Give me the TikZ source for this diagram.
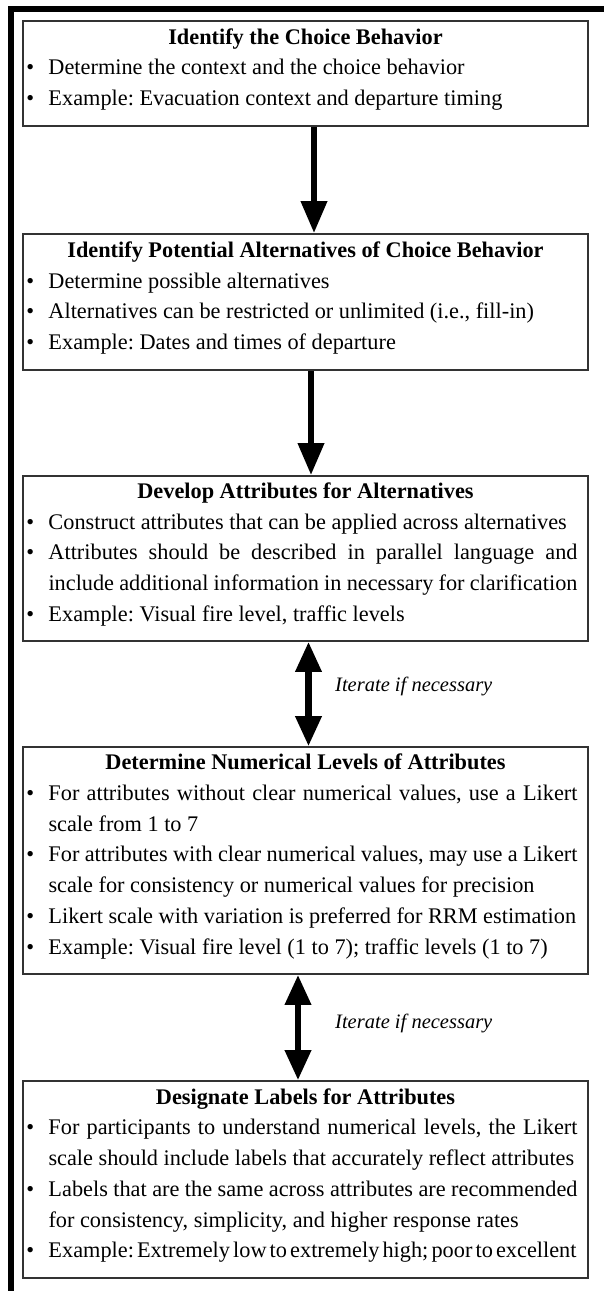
\documentclass[tikz,border=0pt]{standalone}
\usepackage{fontspec}
\setmainfont{Liberation Serif}
\usetikzlibrary{arrows.meta}
\frenchspacing
\newcommand{\itm}[1]{\par\noindent\hangindent=22pt\hangafter=1\makebox[22pt][l]{\textbullet}#1\par}
\newcommand{\ttl}[1]{{\centering\hspace*{7pt}\textbf{#1}\par}}
\newcommand{\boxtext}[1]{\begin{minipage}{551pt}\fontsize{22.3}{30.7}\selectfont\frenchspacing\hyphenpenalty=10000 #1\par\vspace*{8pt}\end{minipage}\hspace*{7pt}}
\tikzset{
  stepbox/.style={draw=black!80, line width=1.6pt, minimum width=565pt, inner xsep=3.5pt, inner ysep=0pt},
  flow/.style={line width=6.5pt, -{Triangle[length=32pt,width=25pt]}},
  twoway/.style={line width=6.5pt, {Triangle[length=30pt,width=25pt]}-{Triangle[length=30pt,width=25pt]}},
  lbl/.style={font=\fontsize{20.5}{24}\selectfont\itshape, inner sep=0pt, anchor=west},
  frame/.style={line width=6pt, line join=miter}
}
\begin{document}
\begin{tikzpicture}[x=1pt,y=-1pt]
\useasboundingbox (0,0) rectangle (603,1291);
\draw[frame] (11,1300) -- (11,9) -- (610,9);

\node[stepbox, minimum height=105pt] (b1) at (305.5,73.5) {\boxtext{%
\ttl{Identify the Choice Behavior}%
\itm{Determine the context and the choice behavior}%
\itm{Example: Evacuation context and departure timing}}};

\node[stepbox, minimum height=136pt] (b2) at (305.5,302) {\boxtext{%
\ttl{Identify Potential Alternatives of Choice Behavior}%
\itm{Determine possible alternatives}%
\itm{Alternatives can be restricted or unlimited (i.e., fill-in)}%
\itm{Example: Dates and times of departure}}};

\node[stepbox, minimum height=165pt] (b3) at (305.5,558.5) {\boxtext{%
\ttl{Develop Attributes for Alternatives}%
\itm{Construct attributes that can be applied across alternatives}%
\itm{Attributes should be described in parallel language and\linebreak include additional information in necessary for clarification}%
\itm{Example: Visual fire level, traffic levels}}};

\node[stepbox, minimum height=227pt] (b4) at (305.5,860.5) {\boxtext{%
\ttl{Determine Numerical Levels of Attributes}%
\itm{For attributes without clear numerical values, use a Likert\linebreak scale from 1 to 7}%
\itm{For attributes with clear numerical values, may use a Likert\linebreak scale for consistency or numerical values for precision}%
\itm{Likert scale with variation is preferred for RRM estimation}%
\itm{Example: Visual fire level (1 to 7); traffic levels (1 to 7)}}};

\node[stepbox, minimum height=197pt] (b5) at (305.5,1179.5) {\boxtext{%
\ttl{Designate Labels for Attributes}%
\itm{For participants to understand numerical levels, the Likert\linebreak scale should include labels that accurately reflect attributes}%
\itm{Labels that are the same across attributes are recommended\linebreak for consistency, simplicity, and higher response rates}%
\itm{{\spaceskip=0.25em minus 0.25em\xspaceskip=0.25em minus 0.25em\makebox[528pt][s]{Example: Extremely low to extremely high; poor to excellent}}}}};

\coordinate (xa) at (314,0);
\coordinate (xb) at (311,0);
\coordinate (xc) at (308.5,0);
\coordinate (xd) at (298,0);

\draw[flow] (b1.south -| xa) -- (b2.north -| xa);
\draw[flow] (b2.south -| xb) -- (b3.north -| xb);
\draw[twoway] (b3.south -| xc) -- (b4.north -| xc);
\draw[twoway] (b4.south -| xd) -- (b5.north -| xd);

\node[lbl] (l1) at (335,686) {Iterate if necessary};
\node[lbl] (l2) at (335,1023) {Iterate if necessary};
\end{tikzpicture}
\end{document}
